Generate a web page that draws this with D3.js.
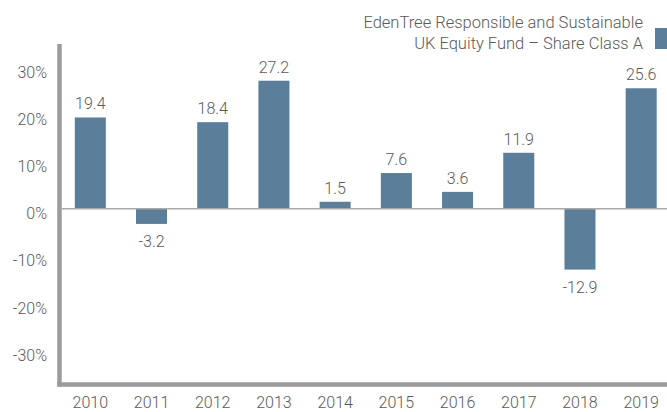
<!DOCTYPE html>
<html><head><meta charset="utf-8">
<script src="https://cdn.jsdelivr.net/npm/d3@7"></script>
<style>
html,body{margin:0;padding:0;background:#fff;}
svg text{font-family:Roboto,"Liberation Sans",sans-serif;font-weight:300;fill:#5a5a5a;}
</style></head>
<body><svg id="c" width="667" height="412"></svg>
<script>
const years = ["2010","2011","2012","2013","2014","2015","2016","2017","2018","2019"];
const values = [19.4,-3.2,18.4,27.2,1.5,7.6,3.6,11.9,-12.9,25.6];
const yTicks = [30,20,10,0,-10,-20,-30];
const legendLines = ["EdenTree Responsible and Sustainable","UK Equity Fund – Share Class A"];

const svg = d3.select("#c");
const barColor = "#5b7f9b";
const axisColor = "#9b9b9d";

const x = d3.scaleBand().domain(years).range([59.5, 672]).paddingInner(0.493).paddingOuter(0.25);
const y = d3.scaleLinear().domain([-37.3, 35]).range([384.5, 44]);

// y tick labels
svg.append("g").selectAll("text").data(yTicks).join("text")
  .attr("x", 47).attr("y", d => y(d) + 10.5)
  .attr("text-anchor", "end").attr("font-size", 16)
  .text(d => d + "%");

// bars
svg.append("g").selectAll("rect").data(values).join("rect")
  .attr("x", (d,i) => x(years[i]))
  .attr("width", x.bandwidth())
  .attr("y", d => y(Math.max(0,d)))
  .attr("height", d => Math.abs(y(d) - y(0)))
  .attr("fill", barColor);

// zero line
svg.append("line").attr("x1", 62).attr("x2", 667).attr("y1", y(0)).attr("y2", y(0))
  .attr("stroke", "#aaaaaa").attr("stroke-width", 1.5);

// value labels
svg.append("g").selectAll("text").data(values).join("text")
  .attr("x", (d,i) => x(years[i]) + x.bandwidth()/2)
  .attr("y", d => d >= 0 ? y(d) - 8 : y(d) + 23)
  .attr("text-anchor", "middle").attr("font-size", 16)
  .text(d => d.toFixed(1));

// axes lines (L shape)
svg.append("line").attr("x1", 59.5).attr("x2", 59.5).attr("y1", 44).attr("y2", 386.75)
  .attr("stroke", axisColor).attr("stroke-width", 4.5);
svg.append("line").attr("x1", 57.25).attr("x2", 667).attr("y1", 384.5).attr("y2", 384.5)
  .attr("stroke", axisColor).attr("stroke-width", 4.5);

// x labels
svg.append("g").selectAll("text").data(years).join("text")
  .attr("x", d => x(d) + x.bandwidth()/2)
  .attr("y", 408)
  .attr("text-anchor", "middle").attr("font-size", 16)
  .text(d => d);

// legend
svg.append("g").selectAll("text").data(legendLines).join("text")
  .attr("x", 643).attr("y", (d,i) => 28 + i*21)
  .attr("text-anchor", "end").attr("font-size", 16.5)
  .text(d => d);
svg.append("rect").attr("x", 655).attr("y", 28).attr("width", 14).attr("height", 21).attr("fill", barColor);
</script></body></html>
